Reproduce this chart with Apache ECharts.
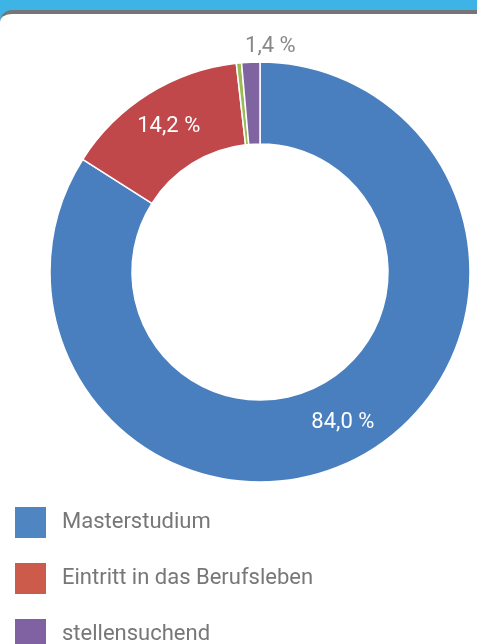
<!DOCTYPE html>
<html>
<head>
<meta charset="utf-8">
<script src="https://cdn.jsdelivr.net/npm/echarts@6/dist/echarts.min.js"></script>
<style>
  html, body { margin: 0; padding: 0; width: 477px; height: 644px; overflow: hidden; background: #3db3e6; }
  #card { position: absolute; left: 0; top: 10px; width: 500px; height: 660px; background: #fff;
          border-top: 4px solid #757575; border-top-left-radius: 12px; }
  #chart { position: absolute; left: 0; top: 0; width: 477px; height: 644px; }
</style>
</head>
<body>
<div id="card"></div>
<div id="chart"></div>
<script>
// Verbleib der Absolventinnen und Absolventen (Anteile in %)
const categories = ['Masterstudium', 'Eintritt in das Berufsleben', 'Sonstiges', 'stellensuchend'];
const shares = [84.0, 14.2, 0.4, 1.4];
const colors = ['#4a7fbf', '#c0484a', '#9bbb59', '#8064a2'];
const legendColors = ['#4f86c2', '#cc5b4b', '#9bbb59', '#8062a2'];
const labelShown = [true, true, false, true];
const legendOrder = ['Masterstudium', 'Eintritt in das Berufsleben', 'stellensuchend', 'Sonstiges'];

const fmt = v => v.toFixed(1).replace('.', ',') + ' %';

const data = categories.map((name, i) => {
  const item = { name, value: shares[i], itemStyle: { color: colors[i] } };
  if (!labelShown[i]) {
    item.label = { show: false };
  } else if (i === 3) {
    // small slice: label sits above the ring
    item.label = { position: 'outside', color: '#888', alignTo: 'none' };
    item.labelLine = { show: false, length: 16, length2: 0 };
  }
  return item;
});

const legendData = legendOrder.map(name => ({
  name,
  itemStyle: { color: legendColors[categories.indexOf(name)] }
}));

const chart = echarts.init(document.getElementById('chart'), null, { renderer: 'canvas' });
chart.setOption({
  animation: false,
  textStyle: { fontFamily: 'Roboto' },
  legend: {
    orient: 'vertical',
    left: 8,
    top: 500,
    height: 400,
    itemWidth: 33,
    itemHeight: 33,
    itemGap: 21,
    icon: 'rect',
    selectedMode: false,
    data: legendData,
    textStyle: { fontFamily: 'Roboto', fontSize: 22, color: '#777', padding: [0, 0, 0, 10] }
  },
  series: [{
    type: 'pie',
    center: [260, 272],
    radius: [128, 210],
    startAngle: 90,
    clockwise: true,
    avoidLabelOverlap: false,
    itemStyle: { borderColor: '#fff', borderWidth: 1.5 },
    label: {
      show: true,
      position: 'inside',
      fontFamily: 'Roboto',
      fontSize: 22,
      color: '#fff',
      formatter: p => fmt(p.value)
    },
    labelLine: { show: false },
    labelLayout: p => (p.dataIndex === 3 ? { align: 'left' } : {}),
    data
  }]
});
</script>
</body>
</html>
